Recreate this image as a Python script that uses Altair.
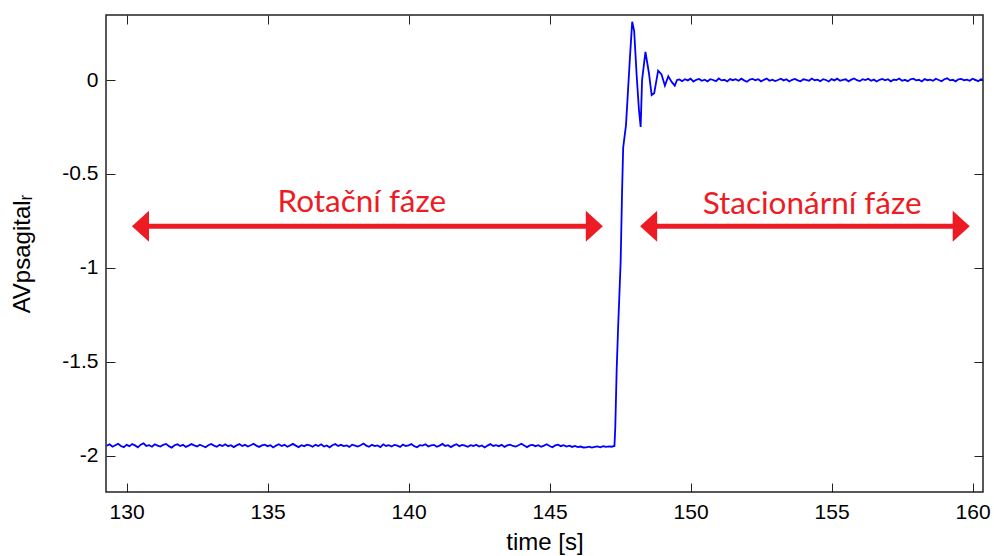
import altair as alt
import pandas as pd
import numpy as np

# ---------------- data ----------------
# rotational phase (regular sampling)
base_start, base_step = 129.3, 0.1
base_vals = [
    -1.946, -1.939, -1.952, -1.944, -1.936, -1.948, -1.954, -1.942, -1.949, -1.938,
    -1.945, -1.955, -1.941, -1.934, -1.948, -1.944, -1.952, -1.939, -1.946, -1.951,
    -1.942, -1.937, -1.949, -1.957, -1.944, -1.939, -1.948, -1.942, -1.953, -1.946,
    -1.938, -1.945, -1.951, -1.941, -1.948, -1.955, -1.944, -1.937, -1.946, -1.952,
    -1.942, -1.948, -1.939, -1.949, -1.944, -1.954, -1.945, -1.938, -1.948, -1.942,
    -1.951, -1.944, -1.936, -1.946, -1.953, -1.945, -1.941, -1.949, -1.944, -1.956,
    -1.946, -1.939, -1.948, -1.942, -1.952, -1.945, -1.937, -1.946, -1.954, -1.944,
    -1.949, -1.941, -1.945, -1.952, -1.942, -1.948, -1.939, -1.951, -1.945, -1.955,
    -1.944, -1.938, -1.948, -1.942, -1.949, -1.945, -1.953, -1.941, -1.946, -1.951,
    -1.944, -1.935, -1.946, -1.952, -1.942, -1.949, -1.945, -1.954, -1.939, -1.948,
    -1.944, -1.951, -1.942, -1.946, -1.953, -1.941, -1.948, -1.945, -1.938, -1.949,
    -1.955, -1.944, -1.946, -1.939, -1.951, -1.945, -1.942, -1.952, -1.946, -1.937,
    -1.948, -1.944, -1.954, -1.945, -1.939, -1.949, -1.942, -1.946, -1.952, -1.944,
    -1.948, -1.941, -1.951, -1.945, -1.956, -1.946, -1.938, -1.948, -1.944, -1.949,
    -1.942, -1.953, -1.945, -1.941, -1.948, -1.951, -1.944, -1.936, -1.946, -1.954,
    -1.945, -1.942, -1.949, -1.944, -1.952, -1.946, -1.939, -1.948, -1.955, -1.945,
    -1.941, -1.949, -1.944, -1.951, -1.946, -1.953, -1.948, -1.954, -1.951, -1.956,
    -1.955, -1.952, -1.957, -1.953, -1.950, -1.955, -1.949, -1.953, -1.950, -1.952,
    -1.948,
]

# transition
trans_t = [147.33, 147.38, 147.43, 147.52, 147.57, 147.61, 147.71, 147.85, 147.93,
           148.00, 148.09, 148.17, 148.23, 148.28, 148.40, 148.52, 148.62, 148.71,
           148.85, 148.97, 149.09, 149.21, 149.33, 149.44, 149.52]
trans_v = [-1.85, -1.54, -1.32, -0.97, -0.60, -0.36, -0.24, 0.12, 0.31,
           0.26, 0.02, -0.16, -0.25, 0.00, 0.15, 0.04, -0.08, -0.07,
           0.05, 0.03, -0.03, 0.02, -0.01, -0.03, 0.00]

# stationary phase (regular sampling)
stat_start, stat_step = 149.6, 0.1
stat_vals = [
    0.003, -0.006, 0.004, -0.002, 0.007, -0.008, 0.001, 0.006, -0.004, 0.002,
    -0.007, 0.004, 0.000, -0.006, 0.008, -0.002, 0.001, -0.008, 0.005, -0.001,
    0.004, -0.004, 0.007, -0.002, -0.009, 0.002, 0.006, -0.001, 0.004, -0.007,
    0.001, 0.008, -0.004, 0.002, -0.006, 0.000, 0.007, -0.002, 0.004, -0.008,
    0.001, 0.006, -0.002, -0.007, 0.004, 0.001, -0.004, 0.008, -0.001, 0.002,
    -0.006, 0.004, 0.000, -0.008, 0.005, -0.002, 0.007, -0.004, 0.001, 0.004,
    -0.007, 0.002, 0.008, -0.001, -0.006, 0.004, 0.000, 0.007, -0.004, 0.002,
    -0.008, 0.001, 0.006, -0.002, 0.004, -0.007, 0.002, 0.000, 0.008, -0.004,
    0.001, -0.006, 0.004, 0.007, -0.002, 0.001, -0.008, 0.005, -0.001, 0.002,
    -0.004, 0.007, 0.000, -0.006, 0.004, 0.009, -0.002, 0.001, -0.007, 0.004,
    0.006, -0.001, 0.002, -0.004, 0.007, 0.001, -0.006, 0.004, 0.000,
]

x_ticks = [130, 135, 140, 145, 150, 155, 160]
y_ticks = [-2, -1.5, -1, -0.5, 0]
x_domain = [129.27, 160.37]
y_domain = [-2.193, 0.346]

phase_labels = ["Rotační fáze", "Stacionární fáze"]
label_t = [138.34, 154.31]
label_v = [-0.703, -0.713]
arrow_left_tip = [130.19, 148.21]
arrow_right_tip = [146.89, 159.90]
arrow_v = [-0.778, -0.778]
head_len = 0.3  # where the shaft stops, inside the heads (time units)

# ---------------- tables ----------------
base_t = np.round(base_start + base_step * np.arange(len(base_vals)), 3)
stat_t = np.round(stat_start + stat_step * np.arange(len(stat_vals)), 3)
sig = pd.DataFrame({
    "t": np.concatenate([base_t, trans_t, stat_t]),
    "v": np.concatenate([base_vals, trans_v, stat_vals]),
})

arrows = pd.DataFrame({
    "x1": [a + head_len for a in arrow_left_tip],
    "x2": [b - head_len for b in arrow_right_tip],
    "v": arrow_v,
})
heads = pd.DataFrame({
    "x": arrow_left_tip + arrow_right_tip,
    "v": arrow_v + arrow_v,
    "dir": ["L", "L", "R", "R"],
})
labels = pd.DataFrame({"t": label_t, "v": label_v, "txt": phase_labels})

# ---------------- styling ----------------
FONT = "Liberation Sans"
AX = "#222222"
RED = "#ED1C24"

xs = alt.Scale(domain=x_domain, nice=False, zero=False)
ys = alt.Scale(domain=y_domain, nice=False, zero=False)

common = dict(offset=-9, tickSize=9, domain=False, grid=False, tickColor=AX,
              tickWidth=1, labelFont=FONT, labelFontSize=21, labelColor="#000000",
              titleFont=FONT, titleFontSize=24, titleFontWeight="normal",
              titleColor="#000000", labelFlush=False, labelOverlap=False)

bottom_axis = alt.Axis(orient="bottom", values=x_ticks, labelExpr="'' + datum.value",
                       labelPadding=9, title="time [s]", titlePadding=8, **common)
left_axis = alt.Axis(orient="left", values=y_ticks, labelExpr="'' + datum.value",
                     labelPadding=8, title="AVpsagitalᵣ", titlePadding=27, **common)
top_axis = alt.Axis(orient="top", values=x_ticks, labels=False, title=None,
                    offset=-9, tickSize=9, domain=False, grid=False,
                    tickColor=AX, tickWidth=1)
right_axis = alt.Axis(orient="right", values=y_ticks, labels=False, title=None,
                      offset=-9, tickSize=9, domain=False, grid=False,
                      tickColor=AX, tickWidth=1)

line = alt.Chart(sig).mark_line(color="#0000FF", strokeWidth=1.8, clip=True).encode(
    x=alt.X("t:Q", scale=xs, axis=bottom_axis),
    y=alt.Y("v:Q", scale=ys, axis=left_axis),
)

shafts = alt.Chart(arrows).mark_rule(color=RED, strokeWidth=5).encode(
    x=alt.X("x1:Q", scale=xs, axis=top_axis),
    x2="x2:Q",
    y=alt.Y("v:Q", scale=ys, axis=right_axis),
)

pathL = "M0,0 L1.1,-1 L1.1,1 Z"
pathR = "M0,0 L-1.1,-1 L-1.1,1 Z"
heads_layer = alt.Chart(heads).mark_point(filled=True, color=RED, opacity=1,
                                           size=961, strokeWidth=0).encode(
    x=alt.X("x:Q", scale=xs, axis=None),
    y=alt.Y("v:Q", scale=ys, axis=None),
    shape=alt.Shape("dir:N", scale=alt.Scale(domain=["L", "R"], range=[pathL, pathR]),
                    legend=None),
)

text_layer = alt.Chart(labels).mark_text(font="Lato", fontSize=31.5, color=RED,
                                         align="center", baseline="alphabetic").encode(
    x=alt.X("t:Q", scale=xs, axis=None),
    y=alt.Y("v:Q", scale=ys, axis=None),
    text="txt:N",
)

chart = alt.layer(line, shafts, heads_layer, text_layer).resolve_axis(
    x="independent", y="independent"
).properties(
    width=877, height=477,
    autosize=alt.AutoSizeParams(type="none"),
    padding={"left": 106, "top": 15, "right": 11, "bottom": 64},
    background="white",
).configure_view(stroke=AX, strokeWidth=1.5)

chart.save("out.html", embed_options={"renderer": "svg", "actions": False})
